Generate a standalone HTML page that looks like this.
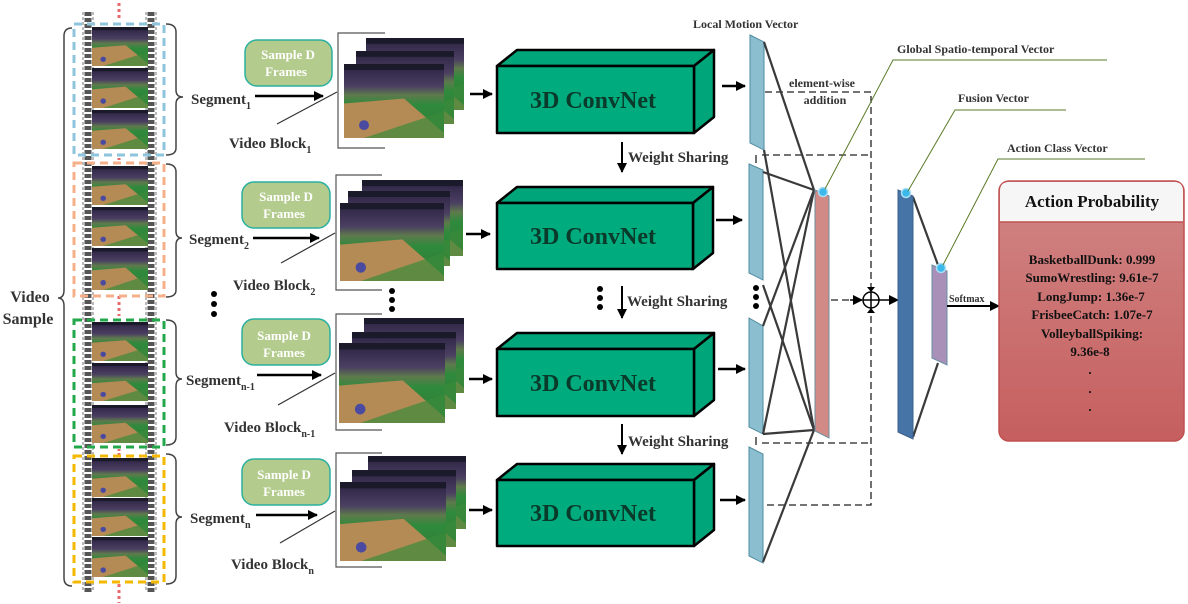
<!DOCTYPE html>
<html><head><meta charset="utf-8"><style>
html,body{margin:0;padding:0;background:#fff;}
svg{display:block;font-family:"Liberation Serif",serif;font-weight:bold;}
</style></head><body>
<svg width="1188" height="604" viewBox="0 0 1188 604" xmlns="http://www.w3.org/2000/svg">
<defs>
<linearGradient id="court" x1="0" y1="0" x2="0" y2="1">
<stop offset="0" stop-color="#2a2140"/><stop offset="0.3" stop-color="#4b3f62"/><stop offset="0.42" stop-color="#5e7a4c"/><stop offset="0.55" stop-color="#2f8a3c"/><stop offset="1" stop-color="#2f7c38"/>
</linearGradient>
<symbol id="fr" viewBox="0 0 100 75" preserveAspectRatio="none">
<rect width="100" height="75" fill="url(#court)"/>
<polygon points="0,40 60,35 100,70 100,75 0,75" fill="#b48a55"/>
<polygon points="20,75 100,48 100,75" fill="#3a8a3a" opacity="0.7"/>
<circle cx="20" cy="62" r="5" fill="#4a4aa0"/>
<rect x="0" y="0" width="100" height="6" fill="#1a1a2a"/>
</symbol>
<marker id="ar" markerWidth="10" markerHeight="10" refX="9" refY="5" orient="auto" markerUnits="userSpaceOnUse"><path d="M0,0 L10,5 L0,10 z" fill="#000"/></marker>
<linearGradient id="ap" x1="0" y1="0" x2="0" y2="1"><stop offset="0" stop-color="#d18585"/><stop offset="1" stop-color="#c65f5f"/></linearGradient>
</defs>

<g>
<line x1="88" y1="12" x2="88" y2="592" stroke="#555" stroke-width="7" stroke-dasharray="4,2"/>
<line x1="151" y1="12" x2="151" y2="592" stroke="#555" stroke-width="7" stroke-dasharray="4,2"/>
<line x1="83" y1="12" x2="83" y2="592" stroke="#777" stroke-width="1" stroke-dasharray="3,2"/>
<line x1="93" y1="12" x2="93" y2="592" stroke="#777" stroke-width="1" stroke-dasharray="3,2"/>
<line x1="146" y1="12" x2="146" y2="592" stroke="#777" stroke-width="1" stroke-dasharray="3,2"/>
<line x1="156" y1="12" x2="156" y2="592" stroke="#777" stroke-width="1" stroke-dasharray="3,2"/>
<g>
<use href="#fr" x="92" y="27" width="56" height="39"/><use href="#fr" x="92" y="68" width="56" height="40"/><use href="#fr" x="92" y="110" width="56" height="39"/>
<use href="#fr" x="92" y="166" width="56" height="39"/><use href="#fr" x="92" y="207" width="56" height="39"/><use href="#fr" x="92" y="248" width="56" height="42"/>
<use href="#fr" x="92" y="322" width="56" height="39"/><use href="#fr" x="92" y="363" width="56" height="38"/><use href="#fr" x="92" y="405" width="56" height="38"/>
<use href="#fr" x="92" y="458" width="56" height="39"/><use href="#fr" x="92" y="498" width="56" height="38"/><use href="#fr" x="92" y="537" width="56" height="40"/>
</g>
<line x1="119" y1="3" x2="119" y2="20" stroke="#e96a6a" stroke-width="3" stroke-dasharray="3,3"/>
<line x1="119" y1="154" x2="119" y2="162" stroke="#e96a6a" stroke-width="3" stroke-dasharray="2,2"/>
<line x1="119" y1="296" x2="119" y2="316" stroke="#e96a6a" stroke-width="3" stroke-dasharray="3,3"/>
<line x1="119" y1="449" x2="119" y2="456" stroke="#e96a6a" stroke-width="3" stroke-dasharray="2,2"/>
<line x1="119" y1="584" x2="119" y2="603" stroke="#e96a6a" stroke-width="3" stroke-dasharray="3,3"/>
<rect x="74" y="24" width="90" height="131" fill="none" stroke="#8ec4dc" stroke-width="3" stroke-dasharray="8,5"/>
<rect x="74" y="163" width="90" height="133" fill="none" stroke="#f5b08a" stroke-width="3" stroke-dasharray="8,5"/>
<rect x="74" y="320" width="90" height="127" fill="none" stroke="#22a84a" stroke-width="3" stroke-dasharray="8,5"/>
<rect x="74" y="456" width="90" height="126" fill="none" stroke="#f5b800" stroke-width="3" stroke-dasharray="8,5"/>
</g>

<g fill="none" stroke="#444" stroke-width="1.5">
<path d="M72,28 Q64,28 64,36 L64,290 Q64,298 58,298 Q64,298 64,306 L64,578 Q64,586 72,586"/>
<path d="M166,24 Q176,24 176,32 L176,90 Q176,97 183,97 Q176,97 176,104 L176,148 Q176,155 166,155"/>
<path d="M166,164 Q176,164 176,172 L176,231 Q176,238 182,238 Q176,238 176,245 L176,290 Q176,297 166,297"/>
<path d="M166,320 Q176,320 176,328 L176,372 Q176,379 182,379 Q176,379 176,386 L176,437 Q176,445 166,445"/>
<path d="M166,454 Q176,454 176,462 L176,510 Q176,517 182,517 Q176,517 176,524 L176,576 Q176,584 166,584"/>
</g>
<g font-size="16" fill="#333">
<text x="30" y="302" text-anchor="middle">Video</text>
<text x="28" y="324" text-anchor="middle">Sample</text>
</g>
<g font-size="15" fill="#333">
<text x="191" y="104">Segment<tspan font-size="10" dy="5">1</tspan></text>
<text x="189" y="244">Segment<tspan font-size="10" dy="5">2</tspan></text>
<text x="186" y="385">Segment<tspan font-size="10" dy="5">n-1</tspan></text>
<text x="190" y="523">Segment<tspan font-size="10" dy="5">n</tspan></text>
<text x="229" y="148">Video Block<tspan font-size="10" dy="5">1</tspan></text>
<text x="233" y="290">Video Block<tspan font-size="10" dy="5">2</tspan></text>
<text x="224" y="432">Video Block<tspan font-size="10" dy="5">n-1</tspan></text>
<text x="231" y="569">Video Block<tspan font-size="10" dy="5">n</tspan></text>
</g>
<g fill="#000"><circle cx="214" cy="294" r="3"/><circle cx="214" cy="304" r="3"/><circle cx="214" cy="314" r="3"/>
<circle cx="392" cy="291" r="3"/><circle cx="392" cy="300" r="3"/><circle cx="392" cy="309" r="3"/>
<circle cx="600" cy="289" r="3"/><circle cx="600" cy="298" r="3"/><circle cx="600" cy="307" r="3"/>
<circle cx="756" cy="288" r="3"/><circle cx="756" cy="297" r="3"/><circle cx="756" cy="306" r="3"/></g>

<g>
<g fill="#b3cb8c" stroke="#2bb0a0" stroke-width="1.5">
<rect x="245" y="40" width="87" height="46" rx="12"/><rect x="242" y="182" width="88" height="46" rx="12"/>
<rect x="242" y="319" width="88" height="46" rx="12"/><rect x="242" y="459" width="88" height="46" rx="12"/>
</g>
<g font-size="13" fill="#fff" text-anchor="middle">
<text x="288" y="59">Sample D</text><text x="286" y="76">Frames</text>
<text x="286" y="201">Sample D</text><text x="284" y="218">Frames</text>
<text x="284" y="340">Sample D</text><text x="284" y="357">Frames</text>
<text x="284" y="479">Sample D</text><text x="284" y="496">Frames</text>
</g>
<g stroke="#000" stroke-width="2.5" marker-end="url(#ar)">
<line x1="255" y1="96" x2="323" y2="96"/><line x1="253" y1="238" x2="319" y2="238"/>
<line x1="257" y1="375" x2="321" y2="375"/><line x1="256" y1="515" x2="317" y2="515"/>
<line x1="470" y1="94" x2="492" y2="94"/><line x1="466" y1="234" x2="490" y2="234"/>
<line x1="469" y1="379" x2="492" y2="379"/><line x1="469" y1="510" x2="492" y2="510"/>
<line x1="722" y1="86" x2="745" y2="86"/><line x1="716" y1="220" x2="742" y2="220"/>
<line x1="718" y1="369" x2="745" y2="369"/><line x1="720" y1="500" x2="745" y2="500"/>
</g>
<g stroke="#333" stroke-width="1.2">
<line x1="277" y1="124" x2="337" y2="92"/><line x1="281" y1="263" x2="335" y2="233"/>
<line x1="278" y1="405" x2="335" y2="373"/><line x1="280" y1="543" x2="335" y2="511"/>
</g>
<g fill="none" stroke="#555" stroke-width="1.2">
<polyline points="385,33 338,33 338,148 385,148"/><polyline points="382,175 336,175 336,290 382,290"/>
<polyline points="382,314 336,314 336,430 382,430"/><polyline points="382,453 336,453 336,567 382,567"/>
</g>
<use href="#fr" x="366" y="38" width="98" height="72"/><use href="#fr" x="356" y="51" width="98" height="73"/><use href="#fr" x="344" y="64" width="100" height="74"/>
<use href="#fr" x="362" y="180" width="101" height="76"/><use href="#fr" x="348" y="191" width="102" height="75"/><use href="#fr" x="340" y="203" width="104" height="78"/>
<use href="#fr" x="364" y="318" width="100" height="75"/><use href="#fr" x="352" y="332" width="104" height="77"/><use href="#fr" x="339" y="343" width="106" height="80"/>
<use href="#fr" x="368" y="456" width="98" height="73"/><use href="#fr" x="352" y="470" width="104" height="77"/><use href="#fr" x="340" y="482" width="106" height="79"/>
<g stroke="#000" stroke-width="2.5" stroke-linejoin="round">
<g><polygon points="497,66 517,50 714,50 694,66" fill="#00a57a"/><polygon points="694,66 714,50 714,117 694,133" fill="#00a57a"/><rect x="497" y="66" width="197" height="67" fill="#00ab7e"/></g>
<g><polygon points="497,203 517,187 713,187 693,203" fill="#00a57a"/><polygon points="693,203 713,187 713,253 693,269" fill="#00a57a"/><rect x="497" y="203" width="196" height="66" fill="#00ab7e"/></g>
<g><polygon points="497,349 517,333 714,333 694,349" fill="#00a57a"/><polygon points="694,349 714,333 714,400 694,416" fill="#00a57a"/><rect x="497" y="349" width="197" height="67" fill="#00ab7e"/></g>
<g><polygon points="497,480 517,464 714,464 694,480" fill="#00a57a"/><polygon points="694,480 714,464 714,530 694,546" fill="#00a57a"/><rect x="497" y="480" width="197" height="66" fill="#00ab7e"/></g>
</g>
<g font-size="24" fill="#0a3a2a" text-anchor="middle">
<text x="593" y="108">3D ConvNet</text><text x="593" y="244">3D ConvNet</text>
<text x="593" y="391">3D ConvNet</text><text x="593" y="521">3D ConvNet</text>
</g>
</g>

<g stroke="#000" stroke-width="2" marker-end="url(#ar)">
<line x1="622" y1="142" x2="622" y2="172"/>
<line x1="622" y1="286" x2="622" y2="318"/><line x1="622" y1="424" x2="622" y2="454"/>
</g>
<g font-size="15" fill="#333">
<text x="628" y="162">Weight Sharing</text><text x="627" y="306">Weight Sharing</text><text x="628" y="446">Weight Sharing</text>
</g>

<g fill="#8bbfd0" stroke="#4e8aa0" stroke-width="1">
<polygon points="750,35 764,42 764,150 750,143"/>
<polygon points="749,164 763,170 763,280 749,273"/>
<polygon points="749,318 763,326 763,434 749,427"/>
<polygon points="749,447 763,454 763,563 749,556"/>
</g>
<text x="693" y="28" font-size="12" fill="#333">Local Motion Vector</text>
<text x="822" y="87" font-size="12" fill="#333" text-anchor="middle">element-wise</text>
<text x="825" y="104" font-size="12" fill="#333" text-anchor="middle">addition</text>

<g fill="none" stroke="#222" stroke-width="1.3" stroke-dasharray="7,4">
<polyline points="765,92 871,92 871,505 765,505"/>
<line x1="762" y1="155" x2="871" y2="155"/>
<line x1="762" y1="443" x2="871" y2="443"/>
<line x1="831" y1="300" x2="858" y2="300"/>
</g>
<line x1="756" y1="155" x2="756" y2="163" stroke="#222" stroke-width="1.3"/>
<line x1="756" y1="437" x2="756" y2="445" stroke="#222" stroke-width="1.3"/>
<circle cx="871" cy="300" r="8" fill="#fff" stroke="#000" stroke-width="1.5"/>
<line x1="863" y1="300" x2="879" y2="300" stroke="#000" stroke-width="1.5"/>
<line x1="871" y1="292" x2="871" y2="308" stroke="#000" stroke-width="1.5"/>
<path d="M867,287 L875,287 L871,292 z M867,313 L875,313 L871,308 z" fill="#000"/>
<line x1="850" y1="300" x2="862" y2="300" stroke="#000" stroke-width="1.5" marker-end="url(#ar)"/>
<line x1="879" y1="300" x2="898" y2="300" stroke="#000" stroke-width="1.5" marker-end="url(#ar)"/>

<g stroke="#3a3a3a" stroke-width="2.2">
<line x1="764" y1="42" x2="814" y2="190"/><line x1="764" y1="150" x2="814" y2="430"/>
<line x1="763" y1="172" x2="814" y2="190"/><line x1="763" y1="285" x2="814" y2="430"/>
<line x1="763" y1="326" x2="814" y2="190"/><line x1="763" y1="434" x2="814" y2="190"/>
<line x1="763" y1="434" x2="814" y2="430"/><line x1="763" y1="562" x2="814" y2="430"/>
<line x1="913" y1="197" x2="938" y2="265"/><line x1="913" y1="437" x2="938" y2="363"/>
</g>

<polygon points="815,190 829,196 829,438 815,431" fill="#d28a86" stroke="#6a8fa0" stroke-width="1"/>
<polygon points="898,190 913,196 913,439 898,432" fill="#4674a6" stroke="#3a5f8a" stroke-width="1"/>
<polygon points="932,265 947,271 947,365 932,358" fill="#a890b8" stroke="#6a8fa0" stroke-width="1"/>
<g fill="#3cb8ea" stroke="#a8dff5" stroke-width="1.5">
<circle cx="823" cy="192" r="4.5"/><circle cx="906" cy="193" r="4.5"/><circle cx="941" cy="268" r="4.5"/>
</g>
<g stroke="#5a7a28" stroke-width="1" fill="none">
<polyline points="825,189 893,60 1107,60"/>
<polyline points="908,191 955,110 1066,110"/>
<polyline points="943,265 998,159 1145,159"/>
</g>
<g font-size="12" fill="#333">
<text x="897" y="53">Global Spatio-temporal Vector</text>
<text x="958" y="102">Fusion Vector</text>
<text x="1007" y="152">Action Class Vector</text>
<text x="949" y="302" font-size="10">Softmax</text>
</g>
<line x1="947" y1="306" x2="999" y2="306" stroke="#000" stroke-width="2" marker-end="url(#ar)"/>

<rect x="999" y="181" width="185" height="260" rx="10" fill="url(#ap)" stroke="#c05050" stroke-width="1.5"/>
<path d="M1000,222 L1000,191 Q1000,182 1009,182 L1174,182 Q1183,182 1183,191 L1183,222 z" fill="#f6f6f6"/>
<line x1="1000" y1="222" x2="1183" y2="222" stroke="#c05050" stroke-width="1.5"/>
<text x="1092" y="207" font-size="17" fill="#111" text-anchor="middle">Action Probability</text>
<g font-size="13" fill="#111" text-anchor="middle">
<text x="1092" y="264">BasketballDunk: 0.999</text>
<text x="1092" y="282">SumoWrestling: 9.61e-7</text>
<text x="1091" y="301">LongJump: 1.36e-7</text>
<text x="1092" y="319">FrisbeeCatch: 1.07e-7</text>
<text x="1092" y="338">VolleyballSpiking:</text>
<text x="1090" y="356">9.36e-8</text>
<text x="1090" y="374">.</text><text x="1090" y="393">.</text><text x="1090" y="411">.</text>
</g>
</svg>
</body></html>
